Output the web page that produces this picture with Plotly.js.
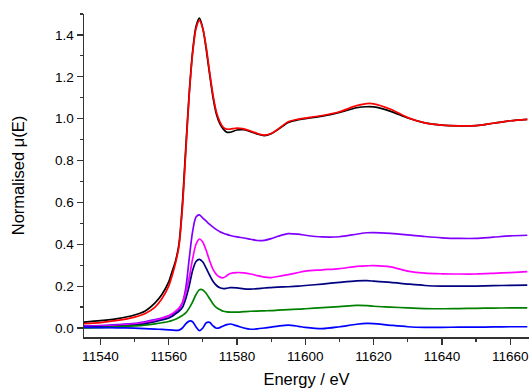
<!DOCTYPE html>
<html>
<head>
<meta charset="utf-8">
<script src="https://cdn.plot.ly/plotly-3.0.1.min.js"></script>
<style>html,body{margin:0;padding:0;background:#fff;}#chart{width:529px;height:390px;}</style>
</head>
<body>
<div id="chart"></div>
<script>
// Energy grid (eV)
const energy = [11535,11540,11545,11550,11553,11556,11558,11560,11561,11562,11563,11564,11565,11566,11567,11568,11569,11570,11571,11572,11573,11574,11575,11576,11577,11578,11580,11582,11584,11586,11588,11590,11592,11595,11598,11600,11605,11610,11615,11618,11620,11625,11630,11635,11640,11645,11650,11655,11660,11665];

const blackSeries = [0.028,0.035,0.045,0.062,0.08,0.12,0.16,0.22,0.27,0.32,0.40,0.59,0.86,1.12,1.32,1.44,1.48,1.43,1.33,1.21,1.10,1.02,0.975,0.95,0.935,0.935,0.946,0.947,0.938,0.926,0.919,0.928,0.948,0.982,0.995,1.000,1.012,1.030,1.052,1.057,1.056,1.035,1.003,0.980,0.969,0.966,0.967,0.978,0.990,0.997];

const redSeries = [0.020,0.026,0.036,0.052,0.068,0.10,0.14,0.20,0.25,0.31,0.39,0.57,0.84,1.11,1.31,1.43,1.47,1.43,1.34,1.22,1.11,1.03,0.985,0.958,0.950,0.950,0.955,0.951,0.941,0.929,0.921,0.929,0.950,0.985,0.998,1.003,1.015,1.033,1.062,1.072,1.071,1.045,1.005,0.980,0.969,0.966,0.967,0.978,0.990,0.997];

const purpleSeries = [0.010,0.012,0.016,0.022,0.030,0.040,0.048,0.058,0.066,0.076,0.090,0.12,0.19,0.33,0.46,0.53,0.54,0.525,0.51,0.495,0.482,0.470,0.460,0.453,0.447,0.442,0.435,0.430,0.424,0.418,0.419,0.427,0.438,0.451,0.448,0.443,0.435,0.436,0.448,0.455,0.456,0.452,0.445,0.437,0.431,0.428,0.428,0.434,0.440,0.443];

const magentaSeries = [0.006,0.008,0.012,0.019,0.025,0.035,0.045,0.058,0.068,0.080,0.095,0.12,0.17,0.24,0.33,0.40,0.425,0.41,0.37,0.32,0.28,0.255,0.243,0.240,0.250,0.260,0.265,0.263,0.258,0.250,0.243,0.241,0.246,0.255,0.265,0.272,0.278,0.284,0.294,0.297,0.298,0.292,0.272,0.262,0.259,0.258,0.258,0.261,0.265,0.269];

const navySeries = [0.003,0.005,0.008,0.014,0.020,0.030,0.038,0.048,0.056,0.068,0.080,0.098,0.14,0.20,0.275,0.318,0.328,0.315,0.285,0.252,0.222,0.203,0.192,0.188,0.190,0.193,0.192,0.187,0.186,0.188,0.191,0.193,0.195,0.197,0.200,0.203,0.210,0.218,0.225,0.226,0.224,0.218,0.210,0.203,0.200,0.200,0.200,0.202,0.204,0.205];

const greenSeries = [0.001,0.002,0.005,0.010,0.014,0.020,0.025,0.031,0.036,0.042,0.050,0.060,0.072,0.095,0.125,0.160,0.183,0.182,0.165,0.140,0.115,0.097,0.088,0.080,0.077,0.076,0.076,0.078,0.080,0.081,0.082,0.083,0.085,0.088,0.090,0.092,0.097,0.102,0.108,0.107,0.104,0.100,0.096,0.093,0.092,0.093,0.094,0.095,0.096,0.096];

const blueSeries = [0.003,0.002,0.001,-0.001,-0.003,-0.005,-0.007,-0.009,-0.010,-0.011,-0.010,0.000,0.020,0.033,0.030,0.005,-0.013,0.000,0.025,0.027,0.010,-0.001,0.002,0.010,0.016,0.019,0.010,0.000,-0.006,-0.004,0.000,0.004,0.009,0.014,0.008,0.003,-0.003,0.006,0.018,0.022,0.021,0.013,0.006,0.003,0.003,0.004,0.004,0.005,0.006,0.006];

const xTickVals = [11540,11560,11580,11600,11620,11640,11660];
const yTickVals = [0.0,0.2,0.4,0.6,0.8,1.0,1.2,1.4];

const seriesList = [
  {y: purpleSeries, color: '#8000FF'},
  {y: magentaSeries, color: '#FF00FF'},
  {y: navySeries, color: '#000080'},
  {y: greenSeries, color: '#008000'},
  {y: blueSeries, color: '#0000FF'},
  {y: blackSeries, color: '#000000'},
  {y: redSeries, color: '#FF0000'}
];

const traces = seriesList.map(s => ({
  x: energy, y: s.y, type: 'scatter', mode: 'lines',
  line: {color: s.color, width: 1.7, shape: 'spline', smoothing: 0.8},
  hoverinfo: 'skip', showlegend: false
}));

const fontFam = 'Liberation Sans, Arial, sans-serif';
const layout = {
  width: 529, height: 390,
  margin: {l: 84, r: 0, t: 14, b: 53},
  paper_bgcolor: '#ffffff', plot_bgcolor: '#ffffff',
  font: {family: fontFam, size: 13.5, color: '#000'},
  showlegend: false,
  xaxis: {
    range: [11535.2, 11665.5],
    tickmode: 'array', tickvals: xTickVals, ticktext: xTickVals.map(String),
    ticks: 'outside', ticklen: 6, tickwidth: 1.2, tickcolor: '#333',
    minor: {dtick: 10, tick0: 11540, ticks: 'outside', ticklen: 3, tickwidth: 1.2, tickcolor: '#333'},
    showline: true, linecolor: '#333', linewidth: 1.5,
    showgrid: false, zeroline: false,
    tickfont: {family: fontFam, size: 13.5},
    title: {text: 'Energy / eV', font: {family: fontFam, size: 16.5}, standoff: 10}
  },
  yaxis: {
    range: [-0.043, 1.5],
    tickmode: 'array', tickvals: yTickVals, ticktext: yTickVals.map(v => v.toFixed(1)),
    ticks: 'outside', ticklen: 6, tickwidth: 1.2, tickcolor: '#333',
    minor: {dtick: 0.1, tick0: 0, ticks: 'outside', ticklen: 3, tickwidth: 1.2, tickcolor: '#333'},
    showline: true, linecolor: '#333', linewidth: 1.5,
    showgrid: false, zeroline: false,
    tickfont: {family: fontFam, size: 13.5},
    title: {text: 'Normalised μ(E)', font: {family: fontFam, size: 16.5}, standoff: 26}
  }
};

Plotly.newPlot('chart', traces, layout, {staticPlot: true, displayModeBar: false});
</script>
</body>
</html>
